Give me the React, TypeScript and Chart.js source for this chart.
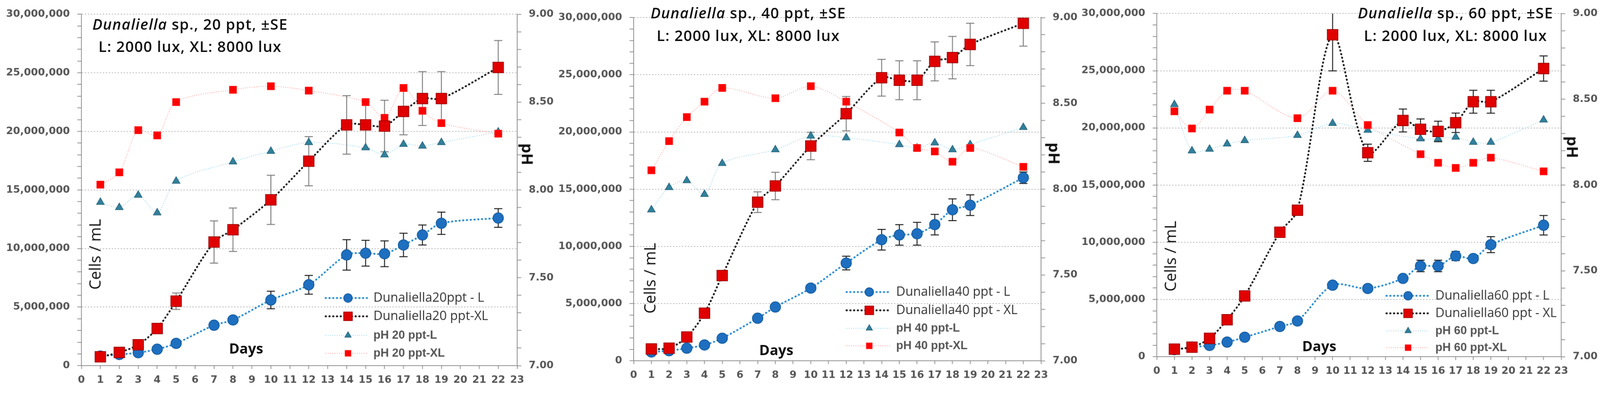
import { useEffect, useRef, useState } from "react";
import { Chart, registerables } from "chart.js";
import { drawPoint } from "chart.js/helpers";

Chart.register(...registerables);

// ---- data ----
const cellDays = [1, 2, 3, 4, 5, 7, 8, 10, 12, 14, 15, 16, 17, 18, 19, 22];
const phDays = [1, 2, 3, 4, 5, 8, 10, 12, 15, 16, 17, 18, 19, 22];

// 20 ppt
const cells20L = [810000, 950000, 1100000, 1400000, 1900000, 3450000, 3900000, 5600000, 6900000, 9450000, 9600000, 9550000, 10300000, 11150000, 12150000, 12600000];
const se20L = [0, 0, 0, 0, 0, 0, 0, 750000, 800000, 1300000, 1100000, 1100000, 1000000, 850000, 950000, 800000];
const cells20XL = [750000, 1130000, 1780000, 3170000, 5500000, 10550000, 11600000, 14150000, 17450000, 20550000, 20550000, 20450000, 21700000, 22800000, 22800000, 25450000];
const se20XL = [0, 0, 0, 0, 700000, 1800000, 1850000, 2100000, 2100000, 2500000, 2000000, 2200000, 2000000, 2300000, 2300000, 2300000];
const ph20L = [7.93, 7.9, 7.97, 7.87, 8.05, 8.16, 8.22, 8.27, 8.24, 8.2, 8.26, 8.25, 8.27, 8.33];
const ph20XL = [8.03, 8.1, 8.34, 8.31, 8.5, 8.57, 8.59, 8.565, 8.5, 8.41, 8.58, 8.45, 8.38, 8.32];
const legend20 = ["Dunaliella20ppt - L", "Dunaliella20 ppt-XL", "pH 20 ppt-L", "pH 20 ppt-XL"];

// 40 ppt
const cells40L = [770000, 880000, 1100000, 1380000, 1970000, 3720000, 4700000, 6350000, 8540000, 10580000, 11000000, 11100000, 11900000, 13200000, 13600000, 16000000];
const se40L = [0, 0, 0, 0, 0, 0, 0, 0, 600000, 900000, 900000, 1000000, 900000, 950000, 900000, 500000];
const cells40XL = [1030000, 1100000, 2080000, 4160000, 7450000, 13860000, 15280000, 18770000, 21600000, 24740000, 24520000, 24520000, 26170000, 26500000, 27650000, 29500000];
const se40XL = [0, 0, 0, 0, 0, 900000, 1200000, 1200000, 1500000, 1600000, 1700000, 1700000, 1700000, 1850000, 1850000, 2000000];
const ph40L = [7.88, 8.01, 8.05, 7.97, 8.15, 8.23, 8.31, 8.3, 8.26, 8.24, 8.27, 8.23, 8.26, 8.36];
const ph40XL = [8.11, 8.28, 8.42, 8.51, 8.59, 8.53, 8.6, 8.51, 8.33, 8.24, 8.22, 8.16, 8.24, 8.13];
const legend40 = ["Dunaliella40 ppt - L", "Dunaliella40 ppt - XL", "pH 40 ppt-L", "pH 40 ppt-XL"];

// 60 ppt
const cells60L = [610000, 830000, 980000, 1270000, 1700000, 2640000, 3120000, 6250000, 5960000, 6840000, 7930000, 7930000, 8800000, 8580000, 9790000, 11490000];
const se60L = [0, 0, 0, 0, 0, 0, 0, 200000, 0, 0, 500000, 500000, 400000, 0, 700000, 850000];
const cells60XL = [660000, 830000, 1600000, 3230000, 5310000, 10880000, 12800000, 28140000, 17830000, 20650000, 19880000, 19690000, 20450000, 22290000, 22290000, 25190000];
const se60XL = [0, 0, 0, 0, 0, 0, 0, 3150000, 750000, 1000000, 900000, 900000, 850000, 1000000, 1000000, 1100000];
const ph60L = [8.47, 8.2, 8.21, 8.24, 8.26, 8.29, 8.36, 8.32, 8.27, 8.27, 8.28, 8.25, 8.25, 8.38];
const ph60XL = [8.43, 8.33, 8.44, 8.55, 8.55, 8.39, 8.55, 8.35, 8.18, 8.13, 8.1, 8.13, 8.16, 8.08];
const legend60 = ["Dunaliella60 ppt - L", "Dunaliella60 ppt - XL", "pH 60 ppt-L", "pH 60 ppt-XL"];

// axes
const dayMin = 0;
const dayMax = 23;
const cellsMax = 30000000;
const cellsStep = 1000000;
const cellsLabelStep = 5000000;
const phMin = 7;
const phMax = 9;

const W = 4285;
const H = 1052;
const AXIS = "#8c8c8c";
const TICK_TEXT = "#555555";
const TICK_FONT = { family: "'DejaVu Sans', sans-serif", size: 27, weight: "bold" as const };

// layout of the three panels (page pixels)
const panels = [
  {
    ppt: 20, cellsL: cells20L, seL: se20L, cellsXL: cells20XL, seXL: se20XL, phL: ph20L, phXL: ph20XL, legend: legend20,
    errL: "#1a1a1a", errXL: "#7f7f7f",
    canvasLeft: 0, canvasWidth: 1500, area: { left: 218, right: 1385, top: 38, bottom: 979 },
    title: { x: 509, y1: 64, y2: 124 },
    cellsLabel: { x: 253, y: 681 }, daysLabel: { x: 659, y: 932 }, phLabel: { x: 1414, y: 413 },
    leg: { from: 872, to: 985, marker: 932, text: 1000, rows: [798, 847, 898, 946] },
  },
  {
    ppt: 40, cellsL: cells40L, seL: se40L, cellsXL: cells40XL, seXL: se40XL, phL: ph40L, phXL: ph40XL, legend: legend40,
    errL: "#1a1a1a", errXL: "#7f7f7f",
    canvasLeft: 1450, canvasWidth: 1460, area: { left: 1697, right: 2788, top: 47, bottom: 966 },
    title: { x: 2004, y1: 34, y2: 94 },
    cellsLabel: { x: 1739, y: 745 }, daysLabel: { x: 2079, y: 936 }, phLabel: { x: 2825, y: 411 },
    leg: { from: 2267, to: 2384, marker: 2328, text: 2400, rows: [782, 831, 879, 926] },
  },
  {
    ppt: 60, cellsL: cells60L, seL: se60L, cellsXL: cells60XL, seXL: se60XL, phL: ph60L, phXL: ph60XL, legend: legend60,
    errL: "#1a1a1a", errXL: "#1a1a1a",
    canvasLeft: 2880, canvasWidth: 1405, area: { left: 3098, right: 4181, top: 34, bottom: 955 },
    title: { x: 3898, y1: 34, y2: 94 },
    cellsLabel: { x: 3133, y: 686 }, daysLabel: { x: 3533, y: 925 }, phLabel: { x: 4213, y: 394 },
    leg: { from: 3713, to: 3825, marker: 3771, text: 3844, rows: [792, 839, 886, 931] },
  },
];

type PanelCfg = (typeof panels)[number];

const pts = (xs: number[], ys: number[]) => xs.map((x, i) => ({ x, y: ys[i] }));

function Panel({ p }: { p: PanelCfg }) {
  const canvasRef = useRef<HTMLCanvasElement>(null);

  useEffect(() => {
    if (!canvasRef.current) return;
    const off = p.canvasLeft;

    const datasets: any[] = [
      {
        label: p.legend[1], data: pts(cellDays, p.cellsXL), yAxisID: "y",
        borderColor: "#1b1b1b", borderWidth: 5, borderDash: [1, 9], borderCapStyle: "round",
        pointStyle: "rect", pointRadius: 20, pointBackgroundColor: "#e00000", pointBorderColor: "#a00000", pointBorderWidth: 2,
        tension: 0.3, errors: p.seXL, errorColor: p.errXL,
      },
      {
        label: p.legend[0], data: pts(cellDays, p.cellsL), yAxisID: "y",
        borderColor: "#2f8fd0", borderWidth: 5, borderDash: [1, 9], borderCapStyle: "round",
        pointStyle: "circle", pointRadius: 14, pointBackgroundColor: "#1e6fc0", pointBorderColor: "#135a9c", pointBorderWidth: 2,
        tension: 0.3, errors: p.seL, errorColor: p.errL,
      },
      {
        label: p.legend[3], data: pts(phDays, p.phXL), yAxisID: "ph",
        borderColor: "#ff9a9a", borderWidth: 2, borderDash: [2, 4],
        pointStyle: "rect", pointRadius: 14, pointBackgroundColor: "#ff0000", pointBorderColor: "#ff3030", pointBorderWidth: 1,
        tension: 0.3,
      },
      {
        label: p.legend[2], data: pts(phDays, p.phL), yAxisID: "ph",
        borderColor: "#8fd0e8", borderWidth: 2, borderDash: [2, 4],
        pointStyle: "triangle", pointRadius: 12, pointBackgroundColor: "#31809c", pointBorderColor: "#245f75", pointBorderWidth: 1.5,
        tension: 0.3,
      },
    ];

    // error bars (±SE) drawn behind the markers
    const errorBars = {
      id: "errorBars",
      beforeDatasetsDraw(chart: Chart) {
        const ctx = chart.ctx;
        const ys = chart.scales.y;
        const a = chart.chartArea;
        chart.data.datasets.forEach((ds: any, i) => {
          if (!ds.errors) return;
          const meta = chart.getDatasetMeta(i);
          ctx.save();
          ctx.beginPath();
          ctx.rect(a.left, a.top, a.right - a.left, a.bottom - a.top);
          ctx.clip();
          ctx.strokeStyle = ds.errorColor;
          ctx.lineWidth = 2.5;
          meta.data.forEach((pt: any, j: number) => {
            const e = ds.errors[j];
            if (!e) return;
            const v = ds.data[j].y;
            const yt = ys.getPixelForValue(v + e);
            const yb = ys.getPixelForValue(v - e);
            ctx.beginPath();
            ctx.moveTo(pt.x, yt);
            ctx.lineTo(pt.x, yb);
            ctx.moveTo(pt.x - 11, yt);
            ctx.lineTo(pt.x + 11, yt);
            ctx.moveTo(pt.x - 11, yb);
            ctx.lineTo(pt.x + 11, yb);
            ctx.stroke();
          });
          ctx.restore();
        });
      },
    };

    // legend placed inside the plot area, like the original
    const legendOrder = [1, 0, 3, 2];
    const panelLegend = {
      id: "panelLegend",
      afterDraw(chart: Chart) {
        const ctx = chart.ctx;
        legendOrder.forEach((dsIndex, k) => {
          const ds: any = chart.data.datasets[dsIndex];
          const y = p.leg.rows[k];
          ctx.save();
          ctx.strokeStyle = ds.borderColor;
          ctx.lineWidth = ds.borderWidth;
          ctx.lineCap = ds.borderCapStyle || "butt";
          ctx.setLineDash(ds.borderDash);
          ctx.beginPath();
          ctx.moveTo(p.leg.from - off, y);
          ctx.lineTo(p.leg.to - off, y);
          ctx.stroke();
          ctx.setLineDash([]);
          ctx.fillStyle = ds.pointBackgroundColor;
          ctx.strokeStyle = ds.pointBorderColor;
          ctx.lineWidth = ds.pointBorderWidth;
          drawPoint(ctx, { pointStyle: ds.pointStyle, radius: ds.pointRadius * 0.82, rotation: 0, borderWidth: ds.pointBorderWidth } as any, p.leg.marker - off, y);
          const isPh = k >= 2;
          ctx.font = isPh ? "bold 31px 'Liberation Sans'" : "34px 'Open Sans'";
          ctx.fillStyle = isPh ? "#555" : "#333";
          ctx.textAlign = "left";
          ctx.textBaseline = "middle";
          ctx.fillText(ds.label, p.leg.text - off, y);
          ctx.restore();
        });
      },
    };

    const chart = new Chart(canvasRef.current, {
      type: "line",
      data: { datasets },
      plugins: [errorBars, panelLegend],
      options: {
        animation: false,
        responsive: false,
        events: [],
        layout: { padding: { top: p.area.top, left: 0, right: 0, bottom: 0 } },
        plugins: { legend: { display: false }, tooltip: { enabled: false } },
        scales: {
          x: {
            type: "linear",
            min: dayMin,
            max: dayMax,
            ticks: { stepSize: 1, autoSkip: false, maxRotation: 0, padding: 14, color: TICK_TEXT, font: TICK_FONT },
            grid: { drawOnChartArea: false, tickLength: 9, tickColor: AXIS, tickWidth: 2 },
            border: { color: AXIS, width: 2 },
            afterFit: (s: any) => {
              s.height = H - p.area.bottom;
            },
          },
          y: {
            position: "left",
            min: 0,
            max: cellsMax,
            ticks: {
              stepSize: cellsStep,
              autoSkip: false,
              padding: 20,
              color: TICK_TEXT,
              font: TICK_FONT,
              callback: (v: any) => (Number(v) % cellsLabelStep === 0 ? Number(v).toLocaleString("en-US") : ""),
            },
            grid: {
              color: (c: any) => (c.tick && c.tick.value % cellsLabelStep === 0 ? "#a6a6a6" : "rgba(0,0,0,0)"),
              lineWidth: 1.5,
              tickLength: 11,
              tickColor: AXIS,
              tickWidth: 2,
            },
            border: { color: AXIS, width: 2, dash: [4, 4] },
            afterFit: (s: any) => {
              s.width = p.area.left - off;
            },
          },
          ph: {
            position: "right",
            min: phMin,
            max: phMax,
            ticks: {
              stepSize: 0.1,
              autoSkip: false,
              padding: 20,
              color: TICK_TEXT,
              font: TICK_FONT,
              callback: (v: any) => {
                const r = Math.round(Number(v) * 10);
                return r % 5 === 0 ? (r / 10).toFixed(2) : "";
              },
            },
            grid: { drawOnChartArea: false, tickLength: 11, tickColor: AXIS, tickWidth: 2 },
            border: { color: AXIS, width: 2 },
            afterFit: (s: any) => {
              s.width = off + p.canvasWidth - p.area.right;
            },
          },
        },
      } as any,
    });

    return () => chart.destroy();
  }, [p]);

  const txt = { position: "absolute" as const, whiteSpace: "nowrap" as const, color: "#111", fontFamily: "'Open Sans', sans-serif" };
  const centred = (x: number, y: number, rot = 0) => ({
    left: x,
    top: y,
    transform: `translate(-50%, -50%) rotate(${rot}deg)`,
  });

  return (
    <>
      <canvas ref={canvasRef} width={p.canvasWidth} height={H} style={{ position: "absolute", left: p.canvasLeft, top: 0 }} />
      <div style={{ ...txt, ...centred(p.title.x, p.title.y1), fontSize: 40, fontWeight: 600, letterSpacing: 1.5 }}>
        <i>Dunaliella</i> sp., {p.ppt} ppt, ±SE
      </div>
      <div style={{ ...txt, ...centred(p.title.x, p.title.y2), fontSize: 40, fontWeight: 600, letterSpacing: 1.5 }}>
        L: 2000 lux, XL: 8000 lux
      </div>
      <div style={{ ...txt, ...centred(p.cellsLabel.x, p.cellsLabel.y, -90), fontSize: 42, fontWeight: 500 }}>Cells / mL</div>
      <div style={{ ...txt, ...centred(p.daysLabel.x, p.daysLabel.y), fontSize: 38, fontWeight: 700 }}>Days</div>
      <div style={{ ...txt, ...centred(p.phLabel.x, p.phLabel.y, 90), fontSize: 42, fontWeight: 700 }}>pH</div>
    </>
  );
}

export default function App() {
  // the figure is laid out on a 4285 x 1052 sheet and fitted to the viewport
  const [scale] = useState(() =>
    typeof window === "undefined" ? 1 : Math.min(window.innerWidth / W, window.innerHeight / H) || 1
  );
  return (
    <div style={{ position: "fixed", left: 0, top: 0, right: 0, bottom: 0, overflow: "hidden", background: "#fff" }}>
      <div style={{ position: "absolute", left: 0, top: 0, width: W, height: H, transform: `scale(${scale})`, transformOrigin: "0 0" }}>
        {panels.map((p) => (
          <Panel key={p.ppt} p={p} />
        ))}
      </div>
    </div>
  );
}
